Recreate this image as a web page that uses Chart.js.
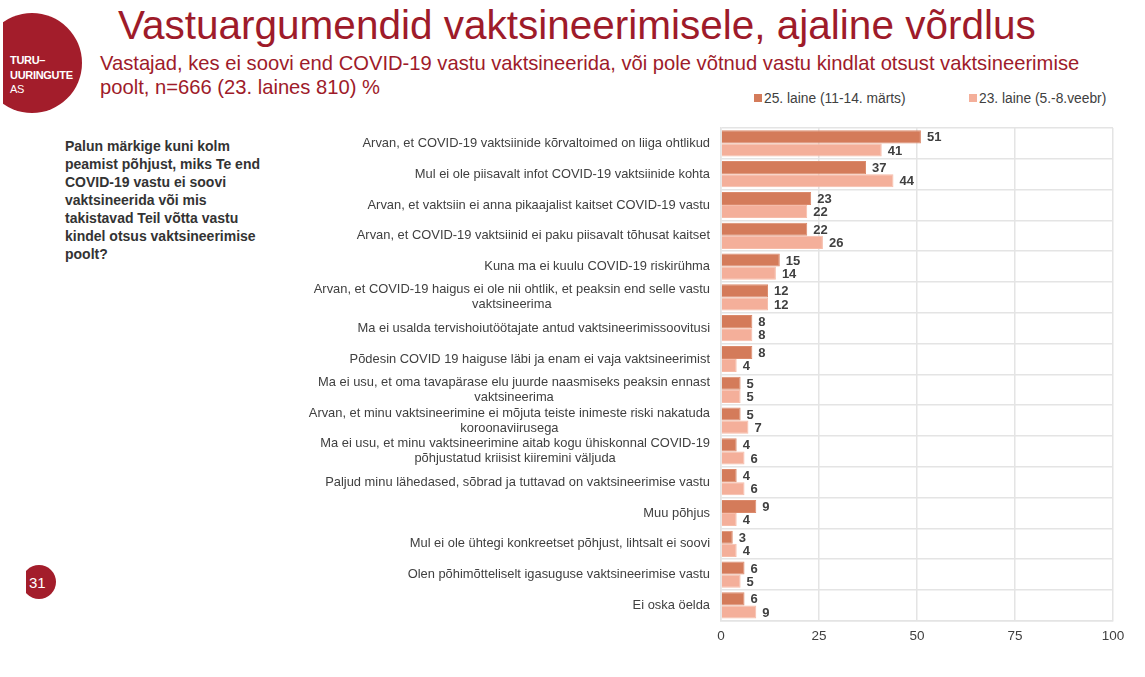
<!DOCTYPE html>
<html>
<head>
<meta charset="utf-8">
<script src="https://cdn.jsdelivr.net/npm/chart.js@4/dist/chart.umd.min.js"></script>
<style>
  body { margin: 0; width: 1145px; height: 677px; background: #fff; font-family: "Liberation Sans", Arial, sans-serif; position: relative; overflow: hidden; }
  .logo { position: absolute; left: 3px; top: 0; width: 100px; height: 130px; overflow: hidden; }
  .logo .disc { position: absolute; left: -21px; top: 13px; width: 100px; height: 100px; border-radius: 50%; background: #a31d2b; }
  .logo .txt { position: absolute; left: 7px; top: 53px; color: #fff; font-size: 11px; line-height: 14.5px; letter-spacing: -0.3px; }
  .title { position: absolute; left: 118px; top: 2px; font-size: 40.5px; color: #9e1b2a; white-space: nowrap; }
  .subtitle { position: absolute; left: 100px; top: 51px; font-size: 20.2px; line-height: 24px; color: #9e1b2a; width: 985px; }
  .question { position: absolute; left: 65px; top: 137px; width: 212px; font-size: 14px; line-height: 18px; font-weight: bold; color: #333; }
  .page { position: absolute; left: 26px; top: 565px; width: 30px; height: 35px; overflow: hidden; }
  .page .disc { position: absolute; left: -4px; top: 0; width: 34px; height: 34px; border-radius: 50%; background: #a31d2b; }
  .page .num { position: absolute; left: 3px; top: 9px; color: #fff; font-size: 15px; }
  #legend { position: absolute; top: 91px; left: 754px; font-size: 13.8px; color: #404040; white-space: nowrap; }
  #legend span.item { position: absolute; top: 0; }
  #legend i { display: inline-block; width: 8px; height: 8px; margin-right: 2px; vertical-align: 1px; }
  #wrap { position: absolute; left: 300px; top: 118px; width: 835px; height: 533px; }
</style>
</head>
<body>
<div class="logo"><div class="disc"></div><div class="txt"><b>TURU–<br>UURINGUTE</b><br>AS</div></div>
<div class="title">Vastuargumendid vaktsineerimisele, ajaline võrdlus</div>
<div class="subtitle">Vastajad, kes ei soovi end COVID-19 vastu vaktsineerida, või pole võtnud vastu kindlat otsust vaktsineerimise poolt, n=666 (23. laines 810) %</div>
<div class="question">Palun märkige kuni kolm peamist põhjust, miks Te end COVID-19 vastu ei soovi vaktsineerida või mis takistavad Teil võtta vastu kindel otsus vaktsineerimise poolt?</div>
<div class="page"><div class="disc"></div><div class="num">31</div></div>
<div id="legend"></div>
<div id="wrap"><canvas id="chart"></canvas></div>
<script>
const categories = [
  ['Arvan, et COVID-19 vaktsiinide kõrvaltoimed on liiga ohtlikud'],
  ['Mul ei ole piisavalt infot COVID-19 vaktsiinide kohta'],
  ['Arvan, et vaktsiin ei anna pikaajalist kaitset COVID-19 vastu'],
  ['Arvan, et COVID-19 vaktsiinid ei paku piisavalt tõhusat kaitset'],
  ['Kuna ma ei kuulu COVID-19 riskirühma'],
  ['Arvan, et COVID-19 haigus ei ole nii ohtlik, et peaksin end selle vastu', 'vaktsineerima'],
  ['Ma ei usalda tervishoiutöötajate antud vaktsineerimissoovitusi'],
  ['Põdesin COVID 19 haiguse läbi ja enam ei vaja vaktsineerimist'],
  ['Ma ei usu, et oma tavapärase elu juurde naasmiseks peaksin ennast', 'vaktsineerima'],
  ['Arvan, et minu vaktsineerimine ei mõjuta teiste inimeste riski nakatuda', 'koroonaviirusega'],
  ['Ma ei usu, et minu vaktsineerimine aitab kogu ühiskonnal COVID-19', 'põhjustatud kriisist kiiremini väljuda'],
  ['Paljud minu lähedased, sõbrad ja tuttavad on vaktsineerimise vastu'],
  ['Muu põhjus'],
  ['Mul ei ole ühtegi konkreetset põhjust, lihtsalt ei soovi'],
  ['Olen põhimõtteliselt igasuguse vaktsineerimise vastu'],
  ['Ei oska öelda']
];
const seriesNames = ['25. laine (11-14. märts)', '23. laine (5.-8.veebr)'];
const wave25 = [51, 37, 23, 22, 15, 12, 8, 8, 5, 5, 4, 4, 9, 3, 6, 6];
const wave23 = [41, 44, 22, 26, 14, 12, 8, 4, 5, 7, 6, 6, 4, 4, 5, 9];
const xTicks = [0, 25, 50, 75, 100];
const colors = ['#d47b5a', '#f4af9a'];

const textColor = '#404040';
const font = '"Liberation Sans", Arial, sans-serif';

// legend, laid out like the original slide
const legendOffsets = [0, 215];
document.getElementById('legend').innerHTML = seriesNames.map((n, i) =>
  '<span class="item" style="left:' + legendOffsets[i] + 'px"><i style="background:' + colors[i] + '"></i>' + n + '</span>'
).join('');

// value labels at the bar ends
const valueLabels = {
  id: 'valueLabels',
  afterDatasetsDraw(chart) {
    const ctx = chart.ctx;
    ctx.save();
    ctx.font = 'bold 13px ' + font;
    ctx.fillStyle = textColor;
    ctx.textAlign = 'left';
    ctx.textBaseline = 'middle';
    chart.data.datasets.forEach((ds, i) => {
      chart.getDatasetMeta(i).data.forEach((bar, j) => {
        ctx.fillText(ds.data[j], bar.x + 6, bar.y + 1);
      });
    });
    ctx.restore();
  }
};

// category labels: block right-aligned to the axis, lines centred in the block
const catLabels = {
  id: 'catLabels',
  afterDraw(chart) {
    const ctx = chart.ctx;
    const y = chart.scales.y;
    const right = chart.chartArea.left - 11;
    ctx.save();
    ctx.font = '12.9px ' + font;
    ctx.fillStyle = textColor;
    ctx.textAlign = 'center';
    ctx.textBaseline = 'middle';
    chart.data.labels.forEach((lines, i) => {
      const w = Math.max(...lines.map(l => ctx.measureText(l).width));
      const cx = right - w / 2;
      const cy = y.getPixelForValue(i);
      const lh = 15;
      lines.forEach((l, k) => {
        ctx.fillText(l, cx, cy + (k - (lines.length - 1) / 2) * lh);
      });
    });
    ctx.restore();
  }
};

new Chart(document.getElementById('chart'), {
  type: 'bar',
  data: {
    labels: categories,
    datasets: [
      { label: seriesNames[0], data: wave25, backgroundColor: colors[0], borderColor: '#db8a6c', borderWidth: 1 },
      { label: seriesNames[1], data: wave23, backgroundColor: colors[1], borderColor: '#f6bca9', borderWidth: 1 }
    ]
  },
  options: {
    indexAxis: 'y',
    responsive: true,
    maintainAspectRatio: false,
    animation: false,
    categoryPercentage: 0.85,
    barPercentage: 1,
    layout: { padding: { right: 22, top: 10, bottom: 0 } },
    plugins: {
      legend: { display: false },
      tooltip: { enabled: false }
    },
    scales: {
      x: {
        min: 0, max: 100,
        afterBuildTicks(scale) { scale.ticks = xTicks.map(v => ({ value: v })); },
        grid: { color: '#e4e4e4', lineWidth: 1.5, drawTicks: false },
        border: { color: '#e4e4e4', width: 1.5 },
        ticks: { color: textColor, font: { size: 13.5, family: font }, padding: 7 }
      },
      y: {
        grid: { color: '#e4e4e4', lineWidth: 1.5, drawTicks: false },
        border: { color: '#e4e4e4', width: 1.5 },
        ticks: { display: false },
        afterFit(scale) { scale.width = 421; }
      }
    }
  },
  plugins: [valueLabels, catLabels]
});
</script>
</body>
</html>
